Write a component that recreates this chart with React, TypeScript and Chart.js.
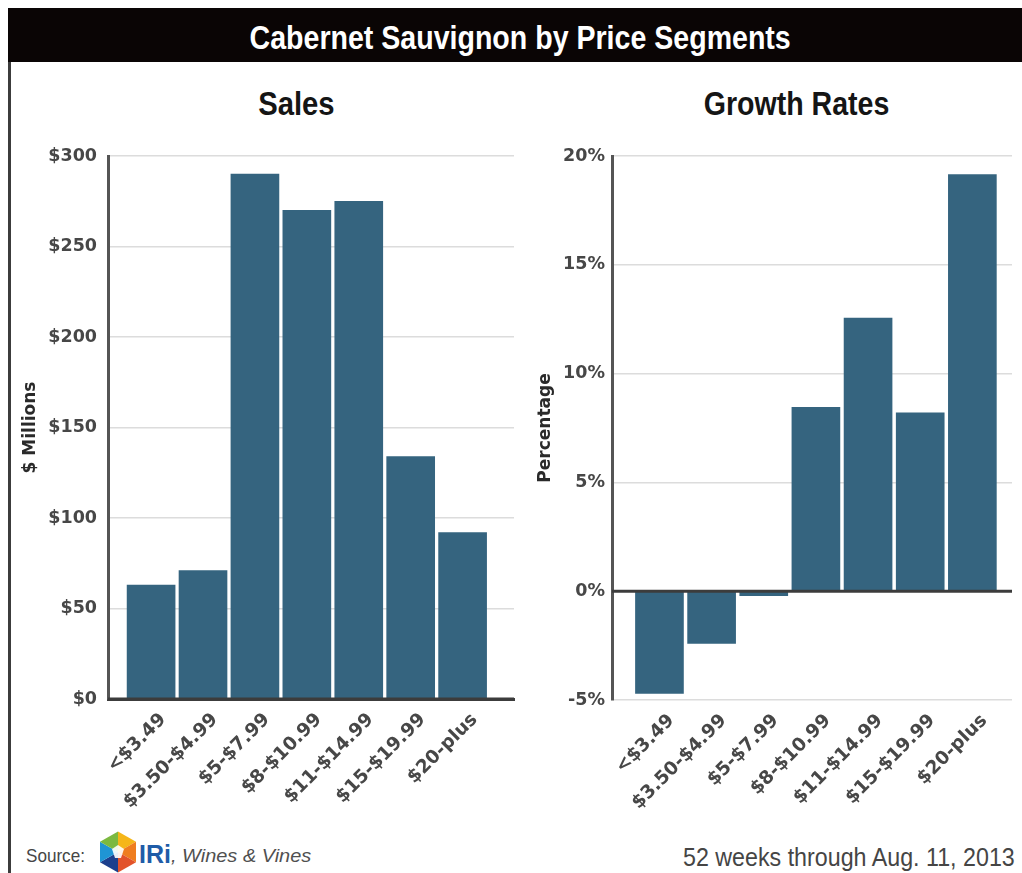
import React, { useEffect, useRef } from 'react';
import { Chart, registerables } from 'chart.js';

Chart.register(...registerables);

// ---------- data ----------
const categories = ['<$3.49', '$3.50-$4.99', '$5-$7.99', '$8-$10.99', '$11-$14.99', '$15-$19.99', '$20-plus'];
const salesValues = [63, 71, 290, 270, 275, 134, 92];
const growthValues = [-4.7, -2.4, -0.2, 8.45, 12.55, 8.2, 19.15];
const salesTicks = [0, 50, 100, 150, 200, 250, 300];
const growthTicks = [-5, 0, 5, 10, 15, 20];

const MAIN_TITLE = 'Cabernet Sauvignon by Price Segments';
const LEFT_TITLE = 'Sales';
const RIGHT_TITLE = 'Growth Rates';
const LEFT_AXIS_TITLE = '$ Millions';
const RIGHT_AXIS_TITLE = 'Percentage';
const SOURCE_LABEL = 'Source:';
const SOURCE_BRAND = 'IRi';
const SOURCE_REST = ', Wines & Vines';
const PERIOD_NOTE = '52 weeks through Aug. 11, 2013';

const BAR_COLOR = '#35647f';
const Y_TICK_FONT = { family: '"DejaVu Sans", sans-serif', size: 17.5, weight: 'bold' };
const X_TICK_FONT = { family: '"DejaVu Sans", sans-serif', size: 18.5, weight: 'bold' };
const TICK_COLOR = '#474747';
const SANS = '"Liberation Sans", Arial, sans-serif';

type PanelOpts = {
  values: number[];
  ticks: number[];
  fmt: (v: number) => string;
  xMin: number;
  xMax: number;
  yTitle: string;
  titlePad: number;
  yWidth: number;
  padRight: number;
  xHeight: number;
  yTickPad: number;
  xBorder: boolean;
};

const baseLinePlugin = {
  id: 'baseLine',
  afterDatasetsDraw(chart: any) {
    const y = chart.scales.y.getPixelForValue(0);
    const { left, right } = chart.chartArea;
    const ctx = chart.ctx;
    ctx.save();
    ctx.strokeStyle = '#3c3c3c';
    ctx.lineWidth = 3;
    ctx.beginPath();
    ctx.moveTo(left, y);
    ctx.lineTo(right, y);
    ctx.stroke();
    ctx.restore();
  },
};

function buildConfig(p: PanelOpts): any {
  return {
    type: 'bar',
    data: {
      datasets: [
        {
          data: p.values.map((v, i) => ({ x: i, y: v })),
          backgroundColor: BAR_COLOR,
          borderWidth: 0,
          barThickness: 48,
        },
      ],
    },
    plugins: [baseLinePlugin],
    options: {
      animation: false,
      responsive: false,
      devicePixelRatio: 1,
      layout: { padding: { left: 0, top: 26, right: p.padRight, bottom: 0 } },
      plugins: {
        legend: { display: false },
        tooltip: { enabled: false },
        title: { display: false },
      },
      scales: {
        x: {
          type: 'linear',
          offset: false,
          min: p.xMin,
          max: p.xMax,
          afterBuildTicks: (s: any) => {
            s.ticks = categories.map((_, i) => ({ value: i }));
          },
          afterFit: (s: any) => {
            s.height = p.xHeight;
            s.paddingLeft = 0;
            s.paddingRight = 0;
          },
          ticks: {
            autoSkip: false,
            minRotation: 45,
            maxRotation: 45,
            padding: 10,
            labelOffset: 12,
            font: X_TICK_FONT,
            color: TICK_COLOR,
            callback: (v: number) => (categories[v] !== undefined ? categories[v] : ''),
          },
          grid: { display: false, drawTicks: false, offset: false },
          border: { display: p.xBorder, color: '#3c3c3c', width: 3 },
        },
        y: {
          min: p.ticks[0],
          max: p.ticks[p.ticks.length - 1],
          afterBuildTicks: (s: any) => {
            s.ticks = p.ticks.map((v) => ({ value: v }));
          },
          afterFit: (s: any) => {
            s.width = p.yWidth;
            s.paddingTop = 0;
            s.paddingBottom = 0;
          },
          ticks: {
            padding: p.yTickPad,
            font: Y_TICK_FONT,
            color: TICK_COLOR,
            callback: (v: number) => p.fmt(v),
          },
          grid: {
            color: '#dcdcdc',
            lineWidth: 1.5,
            drawTicks: false,
          },
          border: { color: '#555555', width: 3 },
          title: {
            display: true,
            text: p.yTitle,
            color: '#2a2a2a',
            font: { family: '"DejaVu Sans", sans-serif', size: 17, weight: 'bold' },
            padding: { top: p.titlePad, bottom: 0 },
          },
        },
      },
    },
  };
}

function Panel(props: { opts: PanelOpts; left: number; top: number; width: number; height: number }) {
  const ref = useRef<HTMLCanvasElement>(null);
  useEffect(() => {
    const chart = new Chart(ref.current as HTMLCanvasElement, buildConfig(props.opts));
    return () => chart.destroy();
  }, []);
  return (
    <canvas
      ref={ref}
      width={props.width}
      height={props.height}
      style={{
        position: 'absolute',
        left: props.left,
        top: props.top,
        width: props.width,
        height: props.height,
      }}
    />
  );
}

function Logo() {
  const cx = 18;
  const cy = 21;
  const pts = [
    [18, 0.5],
    [36, 10.8],
    [36, 31.2],
    [18, 41.5],
    [0, 31.2],
    [0, 10.8],
  ];
  const colors = ['#f5b619', '#ef7d1f', '#e2532a', '#1c3f8c', '#1f95d4', '#7cb940'];
  return (
    <svg width={36} height={42} style={{ position: 'absolute', left: 100, top: 831 }}>
      {pts.map((a, i) => {
        const b = pts[(i + 1) % 6];
        return (
          <polygon
            key={i}
            points={`${cx},${cy} ${a[0]},${a[1]} ${b[0]},${b[1]}`}
            fill={colors[i]}
          />
        );
      })}
      <polygon points="18,14 24,18 21,27 15,27 12,18" fill="#ffffff" opacity={0.9} />
    </svg>
  );
}

function Condensed(props: { text: string; scale: number; origin: string }) {
  return (
    <span
      style={{
        display: 'inline-block',
        transform: `scaleX(${props.scale})`,
        transformOrigin: props.origin,
        whiteSpace: 'nowrap',
      }}
    >
      {props.text}
    </span>
  );
}

export default function App() {
  const leftOpts: PanelOpts = {
    values: salesValues,
    ticks: salesTicks,
    fmt: (v) => '$' + v,
    xMin: -0.83,
    xMax: 6.99,
    yTitle: LEFT_AXIS_TITLE,
    titlePad: 20,
    yWidth: 108,
    padRight: 6,
    xHeight: 131,
    yTickPad: 11,
    xBorder: true,
  };
  const rightOpts: PanelOpts = {
    values: growthValues,
    ticks: growthTicks,
    fmt: (v) => v + '%',
    xMin: -0.91,
    xMax: 6.76,
    yTitle: RIGHT_AXIS_TITLE,
    titlePad: 15,
    yWidth: 92,
    padRight: 10,
    xHeight: 130,
    yTickPad: 7,
    xBorder: false,
  };

  const headStyle: any = {
    position: 'absolute',
    top: 83,
    textAlign: 'center',
    fontFamily: SANS,
    fontWeight: 'bold',
    fontSize: 34,
    lineHeight: '40px',
    color: '#151515',
  };

  return (
    <div
      style={{
        position: 'fixed',
        left: 0,
        top: 0,
        width: 1022,
        height: 873,
        background: '#ffffff',
        overflow: 'hidden',
      }}
    >
      <div
        style={{
          position: 'absolute',
          left: 8,
          top: 8,
          width: 1014,
          height: 54,
          background: '#0a0505',
          color: '#ffffff',
          fontFamily: SANS,
          fontWeight: 'bold',
          fontSize: 34,
          lineHeight: '40px',
          display: 'flex',
          alignItems: 'center',
          justifyContent: 'center',
          paddingLeft: 10,
          paddingTop: 3,
          boxSizing: 'border-box',
        }}
      >
        <Condensed text={MAIN_TITLE} scale={0.84} origin="center" />
      </div>

      <div style={{ ...headStyle, left: 196, width: 200 }}>
        <Condensed text={LEFT_TITLE} scale={0.86} origin="center" />
      </div>
      <div style={{ ...headStyle, left: 647, width: 300 }}>
        <Condensed text={RIGHT_TITLE} scale={0.84} origin="center" />
      </div>

      <Panel opts={leftOpts} left={0} top={130} width={520} height={700} />
      <Panel opts={rightOpts} left={520} top={130} width={502} height={700} />

      <div
        style={{
          position: 'absolute',
          left: 8,
          top: 62,
          width: 2.5,
          height: 811,
          background: '#3c3c3c',
        }}
      />

      <div
        style={{
          position: 'absolute',
          left: 26,
          top: 846,
          fontFamily: SANS,
          fontSize: 19,
          lineHeight: '19px',
          color: '#454545',
          whiteSpace: 'nowrap',
        }}
      >
        <Condensed text={SOURCE_LABEL} scale={0.9} origin="left" />
      </div>
      <Logo />
      <div
        style={{
          position: 'absolute',
          left: 139,
          top: 842,
          fontFamily: SANS,
          fontWeight: 'bold',
          fontSize: 25,
          lineHeight: '25px',
          color: '#1f5ca8',
          whiteSpace: 'nowrap',
        }}
      >
        {SOURCE_BRAND}
      </div>
      <div
        style={{
          position: 'absolute',
          left: 171,
          top: 846,
          fontFamily: SANS,
          fontStyle: 'italic',
          fontSize: 19,
          lineHeight: '19px',
          color: '#505050',
          whiteSpace: 'nowrap',
        }}
      >
        <Condensed text={SOURCE_REST} scale={1.05} origin="left" />
      </div>
      <div
        style={{
          position: 'absolute',
          right: 7,
          top: 845,
          fontFamily: SANS,
          fontSize: 25,
          lineHeight: '25px',
          color: '#454545',
          whiteSpace: 'nowrap',
        }}
      >
        <Condensed text={PERIOD_NOTE} scale={0.93} origin="right" />
      </div>
    </div>
  );
}
